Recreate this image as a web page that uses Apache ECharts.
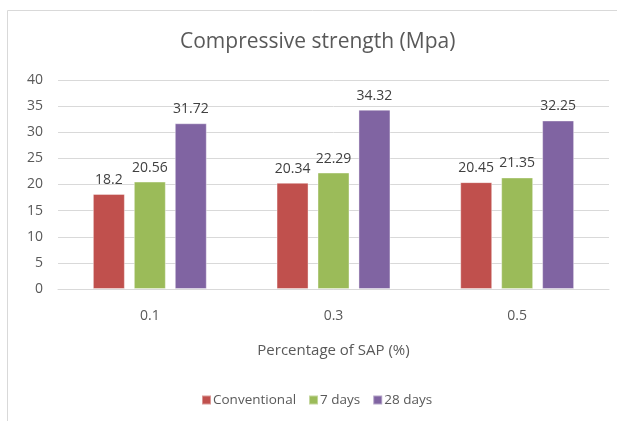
<!DOCTYPE html>
<html>
<head>
<meta charset="utf-8">
<script src="https://cdn.jsdelivr.net/npm/echarts@6/dist/echarts.min.js"></script>
<style>html,body{margin:0;padding:0;background:#fff;}#c{width:617px;height:421px;}</style>
</head>
<body>
<div id="c"></div>
<script>
const categories = ['0.1', '0.3', '0.5'];
const seriesNames = ['Conventional', '7 days', '28 days'];
const conventional = [18.2, 20.34, 20.45];
const days7 = [20.56, 22.29, 21.35];
const days28 = [31.72, 34.32, 32.25];
const yTicks = [0, 5, 10, 15, 20, 25, 30, 35, 40];

const colors = ['#C0504D', '#9BBB59', '#8064A2'];
const FONT = 'Open Sans';
const chart = echarts.init(document.getElementById('c'), null, {renderer: 'canvas'});
const values = [conventional, days7, days28];
chart.setOption({
  animation: false,
  textStyle: {fontFamily: FONT},
  graphic: [{
    type: 'rect', shape: {x: 7.5, y: 10.5, width: 620, height: 420},
    style: {fill: 'none', stroke: '#d9d9d9', lineWidth: 1}, silent: true, z: -1
  }],
  title: {
    text: 'Compressive strength (Mpa)', left: 175, top: 27,
    textStyle: {fontFamily: FONT, fontSize: 21, fontWeight: 'normal', color: '#595959'}
  },
  legend: {
    data: seriesNames, top: 393, left: 201, padding: 0, itemWidth: 9, itemHeight: 9, itemGap: 12,
    icon: 'rect',
    textStyle: {fontFamily: FONT, fontSize: 13.5, color: '#595959', padding: [0, 0, 0, -3]}
  },
  grid: {left: 58, right: 8, top: 80, bottom: 132, containLabel: false},
  xAxis: {
    type: 'category', data: categories,
    name: 'Percentage of SAP (%)', nameLocation: 'middle', nameGap: 54,
    nameTextStyle: {fontFamily: FONT, fontSize: 15, color: '#595959'},
    axisLine: {lineStyle: {color: '#d9d9d9'}}, axisTick: {show: false},
    axisLabel: {color: '#595959', fontSize: 14, margin: 20, fontFamily: FONT}
  },
  yAxis: {
    type: 'value', min: 0, max: 40, interval: 5,
    axisLine: {show: false}, axisTick: {show: false},
    splitLine: {lineStyle: {color: '#d9d9d9'}},
    axisLabel: {color: '#595959', fontSize: 14, margin: 15, fontFamily: FONT}
  },
  series: seriesNames.map((n, i) => ({
    name: n, type: 'bar', data: values[i], barWidth: 32, barGap: '28%',
    itemStyle: {color: colors[i], borderColor: 'rgba(255,255,255,0.4)', borderWidth: 1},
    label: {show: true, position: 'top', distance: 7, color: '#404040', fontSize: 14, fontFamily: FONT}
  }))
});
</script>
</body>
</html>
